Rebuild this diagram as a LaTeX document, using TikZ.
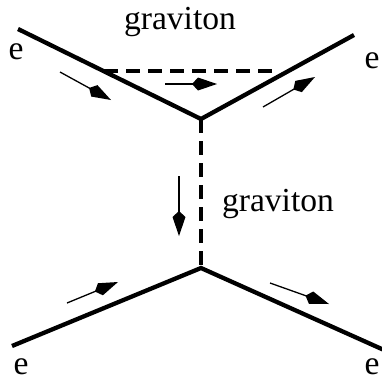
\documentclass[tikz,border=0pt]{standalone}
\usepackage{fontspec}
\setmainfont{Liberation Serif}
\usetikzlibrary{calc}
\newcommand\flowarr[2]{%
  \coordinate (hb) at ($(#2)!19pt!(#1)$);
  \draw[flowline] (#1) -- ($(#2)!23pt!(#1)$);
  \fill (#2) -- ($(hb)!6.5pt!90:(#2)$) -- ($(#2)!25pt!(#1)$) -- ($(hb)!6.5pt!-90:(#2)$) -- cycle;}
\begin{document}
\begin{tikzpicture}[x=1pt,y=-1pt,
  fermion/.style={line width=4.3pt},
  gravline/.style={line width=4.3pt,dash pattern=on 14pt off 8pt},
  flowline/.style={line width=1.3pt},
  lbl/.style={font=\fontsize{33.6}{38}\selectfont,inner sep=0pt}]
\useasboundingbox (0,0) rectangle (382,381);
% vertices and ends
\coordinate (tl) at (18,29);
\coordinate (tv) at (201,119);
\coordinate (tr) at (354,35);
\coordinate (bv) at (201,268);
\coordinate (bl) at (12,346);
\coordinate (br) at (384,350);
\coordinate (dl) at ($(tl)!0.47!(tv)$);
\coordinate (dr) at (276,71);
\draw[fermion,line join=miter] (tl) -- (tv) -- (tr);
\draw[fermion,line join=miter] (bl) -- (bv) -- (br);
\draw[gravline] (dl) -- (dl -| dr);
\draw[gravline] (tv) -- (bv);
% flow arrows
\coordinate (a1s) at (60,72); \coordinate (a1e) at (111,100);
\coordinate (a2s) at (165,84); \coordinate (a2e) at (217,84);
\coordinate (a3s) at (263,107); \coordinate (a3e) at (315,77);
\coordinate (a4s) at (179,176); \coordinate (a4e) at (179,236);
\coordinate (a5s) at (67,303); \coordinate (a5e) at (118,282);
\coordinate (a6s) at (270,283); \coordinate (a6e) at (329,304);
\flowarr{a1s}{a1e}
\flowarr{a2s}{a2e}
\flowarr{a3s}{a3e}
\flowarr{a4s}{a4e}
\flowarr{a5s}{a5e}
\flowarr{a6s}{a6e}
% labels
\node[lbl] (g1) at (180,22) {graviton};
\node[lbl] (g2) at (278,204) {graviton};
\node[lbl] (e1) at (16,52) {e};
\node[lbl] (e2) at (372,61) {e};
\node[lbl] (e3) at (21,367) {e};
\node[lbl] (e4) at (372,367) {e};
\end{tikzpicture}
\end{document}
